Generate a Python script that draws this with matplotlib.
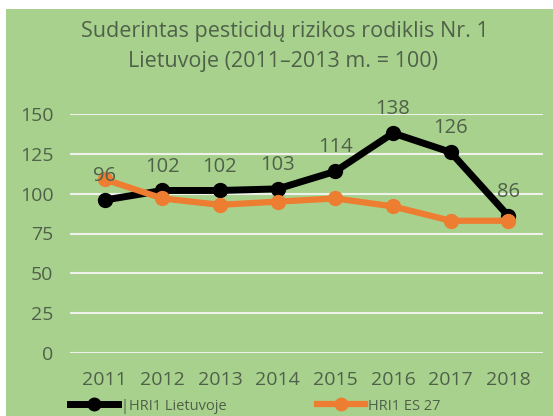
import matplotlib.pyplot as plt
from matplotlib.patches import Rectangle

years = ['2011', '2012', '2013', '2014', '2015', '2016', '2017', '2018']
hri_lt = [96, 102, 102, 103, 114, 138, 126, 86]
hri_es = [109, 97, 93, 95, 97, 92, 83, 83]
yticks = [0, 25, 50, 75, 100, 125, 150]

bg = '#a9d18e'
txt = '#4f6149'

plt.rcParams['font.family'] = ['Open Sans', 'DejaVu Sans']

fig = plt.figure(figsize=(5.53, 4.16), dpi=100)
fig.patch.set_facecolor(bg)
# white strip on top and left
fig.patches.append(Rectangle((0, 1 - 9 / 416), 1, 9 / 416, transform=fig.transFigure,
                             facecolor='white', edgecolor='none', zorder=-1))
fig.patches.append(Rectangle((0, 0), 6 / 553, 1, transform=fig.transFigure,
                             facecolor='white', edgecolor='none', zorder=-1))

ax = fig.add_axes([70 / 553, 1 - 353 / 416, 473 / 553, 239 / 416])
ax.set_zorder(2)
ax.set_facecolor('none')
x = list(range(len(years)))

ax.plot(x, hri_lt, color='black', lw=5, marker='o', ms=10, zorder=3,
        label='|HRI1 Lietuvoje')
ax.plot(x, hri_es, color='#ed7d31', lw=4.5, marker='o', ms=10, zorder=4,
        label='HRI1 ES 27')
for xi, v in zip(x, hri_lt):
    ax.annotate(str(v), (xi, v), xytext=(0, 10), textcoords='offset points',
                ha='center', va='bottom', fontsize=14.5, color=txt, zorder=5)

ax.set_xlim(-0.6, len(years) - 0.4)
ax.set_ylim(0, 150)
ax.set_yticks(yticks)
ax.set_xticks(x)
ax.set_xticklabels(years)
ax.grid(axis='y', color='#eef2ea', lw=1.5, zorder=1)
ax.tick_params(length=0, labelsize=14, labelcolor=txt)
ax.tick_params(axis='x', pad=13)
ax.tick_params(axis='y', pad=12)
for s in ax.spines.values():
    s.set_visible(False)

fig.text(285 / 553, 1 - 32 / 416, 'Suderintas pesticidų rizikos rodiklis Nr. 1',
         ha='center', va='center', fontsize=15.5, color=txt)
fig.text(283 / 553, 1 - 61 / 416, 'Lietuvoje (2011–2013 m. = 100)',
         ha='center', va='center', fontsize=15.5, color=txt)

fig.legend(loc='center', bbox_to_anchor=(255 / 553, 1 - 406 / 416), ncol=2,
           frameon=False, fontsize=10.5, labelcolor=txt, handlelength=3.3,
           columnspacing=6.2, handletextpad=0.2, markerscale=0.9)

fig.savefig('out.png', dpi=100)
